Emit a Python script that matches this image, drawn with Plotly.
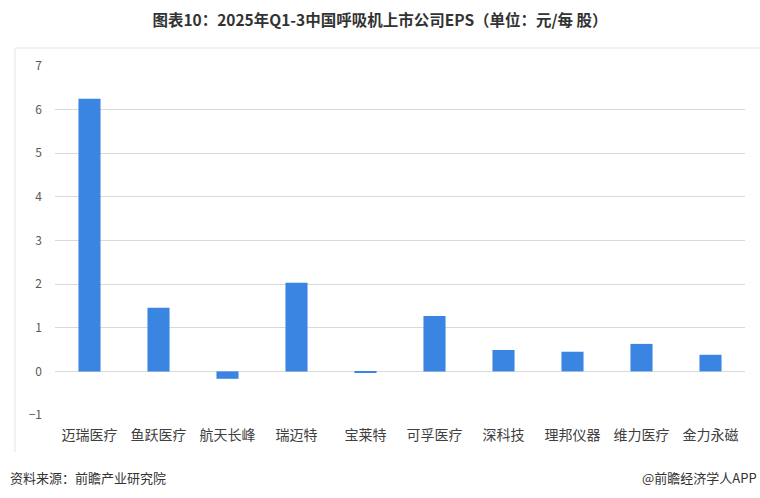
import plotly.graph_objects as go

companies = ["迈瑞医疗", "鱼跃医疗", "航天长峰", "瑞迈特", "宝莱特", "可孚医疗", "深科技", "理邦仪器", "维力医疗", "金力永磁"]
eps = [6.25, 1.46, -0.17, 2.03, -0.03, 1.27, 0.49, 0.45, 0.63, 0.38]
y_ticks = [-1, 0, 1, 2, 3, 4, 5, 6, 7]

fig = go.Figure()
fig.add_trace(go.Bar(x=companies, y=eps, marker_color="#3a84e2", marker_line_width=0))

font_family = "Noto Sans CJK SC"
fig.update_layout(
    width=760, height=498,
    margin=dict(l=55, r=15, t=66, b=83),
    paper_bgcolor="white", plot_bgcolor="white",
    bargap=0.68,
    showlegend=False,
    font=dict(family=font_family, color="#595959", size=12),
    title=dict(text="<b>图表10：2025年Q1-3中国呼吸机上市公司EPS（单位：元/每 股）</b>",
               x=0.5, xanchor="center", y=0.958, yanchor="middle",
               font=dict(size=15.5, color="#333333", family=font_family)),
    xaxis=dict(showgrid=False, showline=False, ticks="", tickfont=dict(size=14, color="#404040"),
               zeroline=False, ticklabelstandoff=10),
    yaxis=dict(range=[-1, 7], tickvals=y_ticks, showgrid=True, gridcolor="#d9d9d9", gridwidth=1,
               zeroline=True, zerolinecolor="#d9d9d9", zerolinewidth=1, ticks="",
               tickfont=dict(size=12, color="#595959"), ticklabelstandoff=12),
)

# chart frame (top and left edges visible in reference)
fig.add_shape(type="line", xref="paper", yref="paper", x0=-0.058, x1=1.03, y0=1.0516, y1=1.0516,
              line=dict(color="#e3e3e3", width=1))
fig.add_shape(type="line", xref="paper", yref="paper", x0=-0.058, x1=-0.058, y0=-0.106, y1=1.0516,
              line=dict(color="#e3e3e3", width=1))

fig.add_annotation(text="资料来源：前瞻产业研究院", xref="paper", yref="paper", x=-0.068, y=-0.18,
                   xanchor="left", yanchor="middle", showarrow=False,
                   font=dict(size=13, color="#333333", family=font_family))
fig.add_annotation(text="@前瞻经济学人APP", xref="paper", yref="paper", x=1.02, y=-0.18,
                   xanchor="right", yanchor="middle", showarrow=False,
                   font=dict(size=13, color="#333333", family=font_family))

fig.write_html("out.html")
